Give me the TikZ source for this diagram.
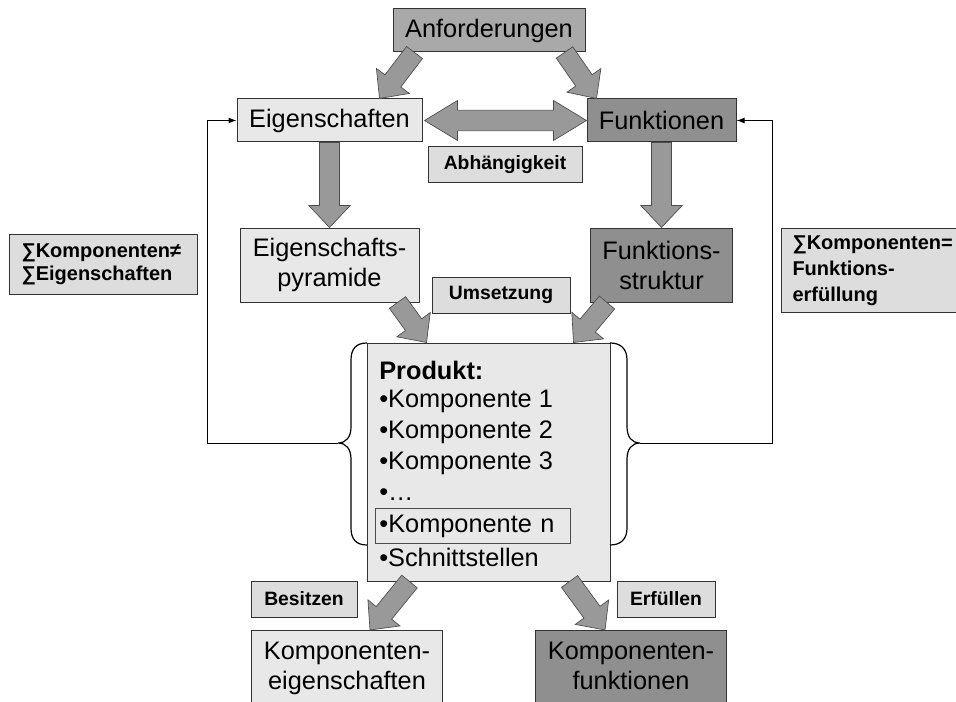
\documentclass[tikz,border=0pt]{standalone}
\usepackage{fontspec}
\setmainfont{Liberation Sans}
\usetikzlibrary{positioning,calc,arrows.meta}

\definecolor{paleGray}{HTML}{E8E8E8}
\definecolor{tagGray}{HTML}{DDDDDD}
\definecolor{midGray}{HTML}{A9A9A9}
\definecolor{darkGray}{HTML}{8F8F8F}
\definecolor{arrowGray}{HTML}{999999}

\tikzset{
  box/.style={draw=black!80, line width=0.75pt, rectangle, align=center, inner sep=0pt,
    font=\fontsize{19}{22.5}\selectfont},
  pale/.style={box, fill=paleGray},
  mid/.style={box, fill=midGray},
  dark/.style={box, fill=darkGray},
  tag/.style={box, fill=tagGray, minimum height=27pt, font=\fontsize{14.5}{17}\selectfont\bfseries},
  sumtag/.style={tag, anchor=north west, align=left},
  item/.style={anchor=west, inner sep=3pt, font=\fontsize{19}{22.5}\selectfont},
  lowbox/.style={anchor=north west, minimum width=143.25pt, text height=44.5pt, text depth=22.5pt},
  fat/.style={fill=arrowGray, draw=black!70, line width=0.5pt, line join=miter},
  feedback/.style={draw=black, line width=0.75pt, -{Latex[length=6pt,width=4.5pt]}},
  curly/.style={draw=black, line width=0.9pt},
}

% broad block arrow from #1 to #2
\newcommand{\fatarrow}[2]{%
  \draw[fat] let \p1=(#1), \p2=(#2), \n1={atan2(\y2-\y1,\x2-\x1)},
      \n2={veclen(\x2-\x1,\y2-\y1)} in
    ($(\p1)+(\n1+90:7.5pt)$) -- ++(\n1:\n2-16.5pt) -- ++(\n1+90:8pt) -- (\p2)
    -- ($(\p1)+(\n1:\n2-16.5pt)+(\n1-90:15.5pt)$) -- ++(\n1+90:8pt)
    -- ($(\p1)+(\n1-90:7.5pt)$) -- cycle;}

\begin{document}
\begin{tikzpicture}[x=0.75pt,y=-0.75pt,on grid]
 \useasboundingbox (0,0) rectangle (956,702);
 \clip (0,0) rectangle (956,702);

 \node[mid,minimum width=144pt,minimum height=32.25pt] (anf) at (489,30.5) {Anforderungen};
 \node[pale,minimum width=138.75pt,minimum height=32.25pt] (eig) at (329.5,120.5) {Eigenschaften};
 \node[dark,minimum width=111.75pt,minimum height=32.25pt] (fkt) at (661.5,120.5) {Funktionen};
 \node[tag,minimum width=115.5pt] (abh) at (505,165) {Abhängigkeit};
 \node[pale,minimum width=134.25pt,minimum height=55.5pt,below=108.4pt of eig] (pyr) {Eigenschafts-\\pyramide};
 \node[dark,minimum width=106.5pt,minimum height=55.5pt,below=108.4pt of fkt] (fst) {Funktions-\\struktur};
 \node[tag,minimum width=103.5pt] (ums) at (501,295) {Umsetzung};

 \node[sumtag,text width=123pt,inner xsep=9pt,minimum height=45pt,
   font=\fontsize{15}{17.5}\selectfont\bfseries] (sumeig) at (9,234)
   {∑Komponenten≠\\∑Eigenschaften};
 \node[sumtag,text width=126pt,inner xsep=8.25pt,minimum height=63pt,
   font=\fontsize{15}{19.5}\selectfont\bfseries] (sumfkt) at (781,228)
   {∑Komponenten=\\Funktions-\\erfüllung};

 % product with its parts
 \node[pale,minimum width=182.25pt,minimum height=178.5pt] (prod) at (488.5,462) {};
 \node[item,font=\fontsize{19}{22.5}\selectfont\bfseries] (p0) at (375,370) {Produkt:};
 \node[item,below=23.4pt of p0.west,anchor=west] (p1) {•Komponente 1};
 \node[item,below=23.4pt of p1.west,anchor=west] (p2) {•Komponente 2};
 \node[item,below=23.4pt of p2.west,anchor=west] (p3) {•Komponente 3};
 \node[item,below=23.4pt of p3.west,anchor=west] (p4) {•…};
 \node[item,draw=black!70,line width=0.6pt,text width=140.25pt,minimum height=26.25pt,
   below=23.4pt of p4.west,anchor=west] (pn) {•Komponente n};
 \node[item,below=23.4pt of pn.west,anchor=west] (ps) {•Schnittstellen};

 \node[tag,minimum width=79.5pt] (bes) at (304,599) {Besitzen};
 \node[tag,minimum width=73.5pt] (erf) at (666,599) {Erfüllen};
 \node[pale,lowbox] (keig) at (251,630) {Komponenten-\\eigenschaften};
 \node[dark,lowbox] (kfkt) at (535,630) {Komponenten-\\funktionen};

 % block arrows
 \coordinate (a1) at ($(anf.south west)+(22,0)$);
 \coordinate (e1) at ($(eig.north west)+(143,0)$);
 \coordinate (a2) at ($(anf.south east)+(-21,0)$);
 \coordinate (f1) at ($(fkt.north west)+(10,0)$);
 \coordinate (y1) at ($(pyr.south east)+(-22,0)$);
 \coordinate (t1) at ($(prod.north west)+(60,0)$);
 \coordinate (s1) at ($(fst.south west)+(17,0)$);
 \coordinate (t2) at ($(prod.north east)+(-37,0)$);
 \coordinate (b1) at ($(prod.south west)+(43,0)$);
 \coordinate (k1) at ($(keig.north west)+(119,0)$);
 \coordinate (b2) at ($(prod.south east)+(-41,0)$);
 \coordinate (k2) at ($(kfkt.north west)+(70,0)$);

 \fatarrow{a1}{e1}
 \fatarrow{a2}{f1}
 \fatarrow{eig.south}{pyr.north}
 \fatarrow{fkt.south}{fst.north}
 \fatarrow{y1}{t1}
 \fatarrow{s1}{t2}
 \fatarrow{b1}{k1}
 \fatarrow{b2}{k2}

 % both-ways arrow
 \draw[fat] let \p1=(eig.east), \p2=(fkt.west) in
   (\x1+1.5pt,\y1) -- ++(24.75pt,15pt) -- ++(0,-7.2pt) -- (\x2-24.75pt,\y1+7.8pt)
   -- ++(0,7.2pt) -- (\x2,\y1) -- ++(-24.75pt,-15pt) -- ++(0,7.2pt)
   -- (\x1+26.25pt,\y1-7.8pt) -- ++(0,-7.2pt) -- cycle;

 % braces and feedback lines
 \coordinate (lb) at (338,443);
 \coordinate (rb) at (640,443);
 \coordinate (lc) at (207,443);
 \coordinate (rc) at (772,443);
 \draw[curly] (367,343) .. controls (356,343) and (351,349) .. (351,360) -- (351,427)
   .. controls (351,437) and (346,443) .. (lb) .. controls (346,443) and (351,449) .. (351,459)
   -- (351,528) .. controls (351,539) and (356,545) .. (367,545);
 \draw[curly] (610,343) .. controls (621,343) and (627,349) .. (627,360) -- (627,427)
   .. controls (627,437) and (632,443) .. (rb) .. controls (632,443) and (627,449) .. (627,459)
   -- (627,528) .. controls (627,539) and (621,545) .. (610,545);
 \draw[feedback] (lb) -- (lc) |- (eig.west);
 \draw[feedback] (rb) -- (rc) |- (fkt.east);
\end{tikzpicture}
\end{document}
